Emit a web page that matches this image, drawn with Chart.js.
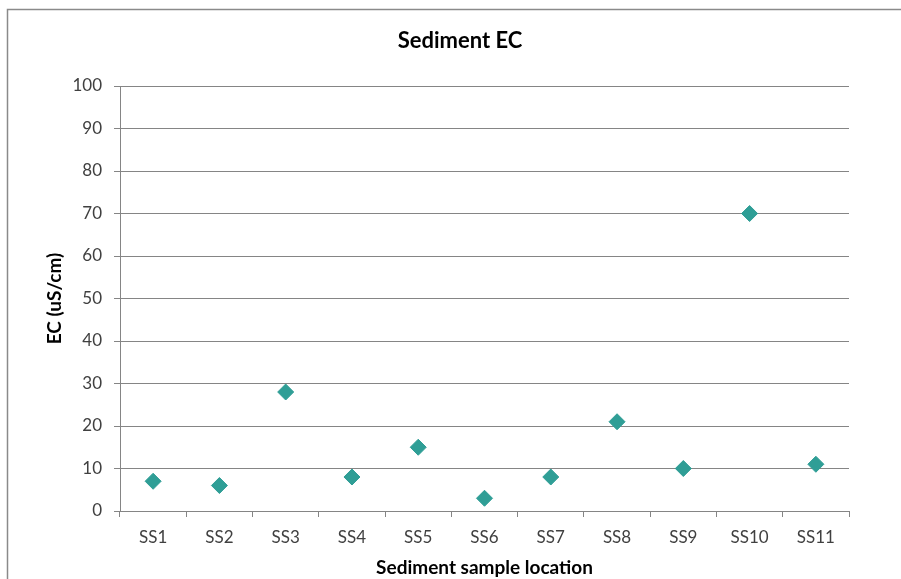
<!DOCTYPE html>
<html>
<head>
<meta charset="utf-8">
<style>
  html, body { margin: 0; padding: 0; background: #ffffff; overflow: hidden; }
  #wrap { width: 901px; height: 579px; position: relative; }
</style>
<script src="https://cdn.jsdelivr.net/npm/chart.js@4/dist/chart.umd.min.js"></script>
</head>
<body>
<div id="wrap"><canvas id="chart" width="901" height="579"></canvas></div>
<script>
// Sediment electrical conductivity by sample location
const chartTitle = 'Sediment EC';
const xAxisTitle = 'Sediment sample location';
const yAxisTitle = 'EC (uS/cm)';
const locations = ['SS1', 'SS2', 'SS3', 'SS4', 'SS5', 'SS6', 'SS7', 'SS8', 'SS9', 'SS10', 'SS11'];
const ecValues = [7, 6, 28, 8, 15, 3, 8, 21, 10, 70, 11];
const yMin = 0;
const yMax = 100;
const yStep = 10;

const FONT = 'Lato, "Open Sans", sans-serif';
const GRID = '#858585';
const TEXT = '#404040';
const MARKER = '#2f9e96';

// Top and left edges of the chart frame, plus the chart title
const framePlugin = {
  id: 'frameAndTitle',
  beforeDraw(chart) {
    const ctx = chart.ctx;
    ctx.save();
    ctx.fillStyle = '#ffffff';
    ctx.fillRect(0, 0, chart.width, chart.height);
    ctx.strokeStyle = '#8a8a8a';
    ctx.lineWidth = 1.5;
    ctx.beginPath();
    ctx.moveTo(7.5, chart.height);
    ctx.lineTo(7.5, 9.5);
    ctx.lineTo(chart.width, 9.5);
    ctx.stroke();
    ctx.restore();
  },
  afterDraw(chart) {
    const ctx = chart.ctx;
    ctx.save();
    ctx.font = 'bold 22px ' + FONT;
    ctx.fillStyle = '#000000';
    ctx.textAlign = 'center';
    ctx.textBaseline = 'middle';
    ctx.fillText(chartTitle, 460, 41);
    ctx.restore();
  }
};

new Chart(document.getElementById('chart'), {
  type: 'line',
  data: {
    labels: locations,
    datasets: [{
      label: 'EC',
      data: ecValues,
      showLine: false,
      pointStyle: 'rectRot',
      pointRadius: 8,
      pointHoverRadius: 8,
      pointBackgroundColor: MARKER,
      pointBorderColor: MARKER,
      pointBorderWidth: 1
    }]
  },
  options: {
    responsive: false,
    animation: false,
    events: [],
    layout: { padding: { top: 86, right: 52, bottom: 0, left: 0 } },
    plugins: {
      legend: { display: false },
      title: { display: false },
      tooltip: { enabled: false }
    },
    scales: {
      x: {
        type: 'category',
        offset: true,
        afterFit(scale) { scale.height = 68; },
        grid: {
          display: true,
          offset: true,
          drawOnChartArea: false,
          drawTicks: true,
          tickLength: 6,
          color: GRID,
          lineWidth: 1
        },
        border: { display: true, color: GRID, width: 1 },
        ticks: {
          color: TEXT,
          font: { family: FONT, size: 17 },
          padding: 10,
          maxRotation: 0,
          autoSkip: false
        },
        title: {
          display: true,
          text: xAxisTitle,
          color: '#000000',
          font: { family: FONT, size: 19, weight: 'bold' },
          padding: { top: 0, bottom: 0 }
        }
      },
      y: {
        min: yMin,
        max: yMax,
        afterFit(scale) { scale.width = 120; },
        grid: {
          color: GRID,
          lineWidth: 1,
          drawTicks: true,
          tickLength: 6,
          tickColor: GRID
        },
        border: { display: true, color: GRID, width: 1 },
        ticks: {
          stepSize: yStep,
          color: TEXT,
          font: { family: FONT, size: 17 },
          padding: 12
        },
        title: {
          display: true,
          text: yAxisTitle,
          color: '#000000',
          font: { family: FONT, size: 19, weight: 'bold' },
          padding: { top: 43, bottom: 0 }
        }
      }
    }
  },
  plugins: [framePlugin]
});
</script>
</body>
</html>
